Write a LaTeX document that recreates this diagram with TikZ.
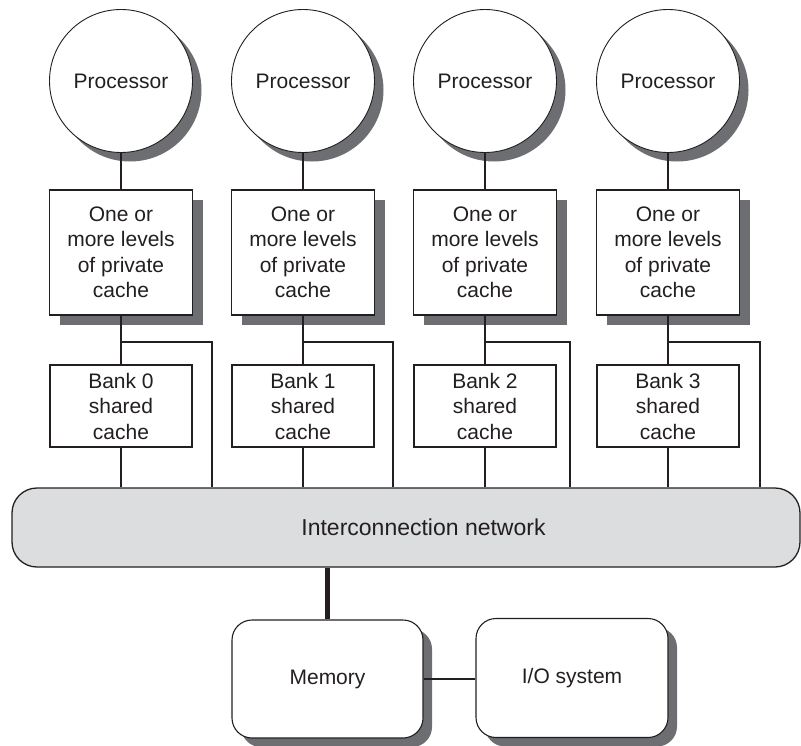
\documentclass[tikz,border=0pt]{standalone}
\usepackage{fontspec}
\setmainfont{Liberation Sans}
\usetikzlibrary{shadows}
\definecolor{ink}{HTML}{231F20}
\definecolor{shade}{HTML}{6D6E71}
\definecolor{busfill}{HTML}{DCDDDF}
\begin{document}
\begin{tikzpicture}[x=1pt,y=-1pt,
  every node/.style={text=ink, font=\fontsize{21}{25.5}\selectfont, align=center, inner sep=0pt},
  shad/.style={drop shadow={shadow xshift=9pt, shadow yshift=-9pt, fill=shade, opacity=1}},
  proc/.style={circle, draw=ink, line width=0.9pt, fill=white, minimum size=143pt, shad},
  pcache/.style={rectangle, draw=ink, line width=1.1pt, fill=white, minimum width=143pt, minimum height=125pt, drop shadow={shadow xshift=10pt, shadow yshift=-10pt, fill=shade, opacity=1}},
  bank/.style={rectangle, draw=ink, line width=1.1pt, fill=white, minimum width=142pt, minimum height=82pt},
  sysbox/.style={rectangle, rounded corners=20pt, draw=ink, line width=1.1pt, fill=white, minimum width=191pt, minimum height=118pt, shad},
  wire/.style={draw=ink, line width=1.3pt},
  heavywire/.style={draw=ink, line width=1.8pt},
]
\useasboundingbox (0,0) rectangle (801,745);

% interconnection network
\node[rectangle, rounded corners=25pt, draw=ink, line width=1.3pt, fill=busfill,
      minimum width=788pt, minimum height=79pt] (bus) at (406,527.5) {};
\node[font=\fontsize{23}{27}\selectfont] (buslabel) at (423.5,527.5) {Interconnection network};

\foreach \i/\cx/\rx in {0/121/212, 1/303/393, 2/485/570, 3/668/760} {
  \node[proc] (p\i) at (\cx,81) {Processor};
  \node[pcache] (c\i) at (\cx,252.5) {One or\\more levels\\of private\\cache};
  \node[bank] (b\i) at (\cx,406) {Bank \i\\shared\\cache};
  \coordinate (j\i) at (\cx,342);
  \coordinate (r\i) at (\rx,342);
  \draw[wire] (p\i.south) -- (c\i.north);
  \draw[heavywire] (c\i.south) -- (b\i.north);
  \draw[wire] (j\i) -- (r\i) -- (r\i |- bus.north);
  \draw[wire] (b\i.south) -- (b\i.south |- bus.north);
}

% memory and I/O
\node[sysbox] (mem) at (327.5,679) {Memory};
\node[sysbox, minimum width=192pt, minimum height=119pt] (io) at (572,678) {I/O system};
\draw[draw=ink, line width=4.5pt] (mem.north |- bus.south) -- (mem.north);
\draw[wire] (mem.east) -- (io.west |- mem.east);
\end{tikzpicture}
\end{document}
